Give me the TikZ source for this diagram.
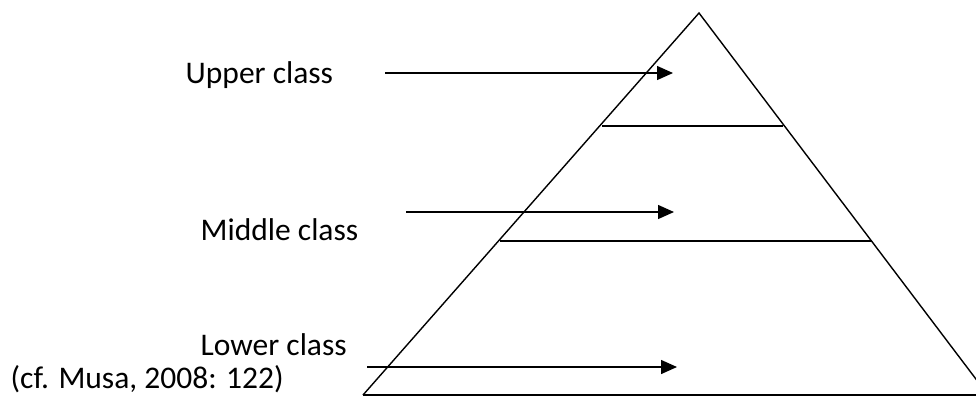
\documentclass[tikz,border=0pt]{standalone}
\usepackage{fontspec}
\setmainfont{Carlito}
\usetikzlibrary{arrows.meta}

\begin{document}
\begin{tikzpicture}[x=1pt, y=-1pt, line width=1.4pt,
  lbl/.style={anchor=base west, inner sep=0pt, font=\fontsize{31.5}{36}\selectfont},
  arr/.style={-{Triangle[length=16pt, width=14pt]}}]
\clip (0,0) rectangle (976,397);
% pyramid
\coordinate (top) at (699,13);
\coordinate (bl) at (363,395);
\coordinate (br) at (988,395);
\draw (bl) -- (top) -- (br);
\draw (bl) -- (976,395);
\draw (602,126) -- (783,126);
\draw (500,241) -- (871,241);
% labels
\node[lbl] (up) at (185,83) {Upper class};
\node[lbl] (mid) at (200,240) {Middle class};
\node[lbl] (low) at (200,355) {Lower class};
\node[lbl] (cite) at (10,388) {(cf. Musa, 2008: 122)};
% arrows
\coordinate (up-s) at (385,73);   \coordinate (up-e) at (673,73);
\coordinate (mid-s) at (406,212); \coordinate (mid-e) at (674,212);
\coordinate (low-s) at (367,367); \coordinate (low-e) at (677,367);
\draw[arr] (up-s) -- (up-e);
\draw[arr] (mid-s) -- (mid-e);
\draw[arr] (low-s) -- (low-e);
\end{tikzpicture}
\end{document}
